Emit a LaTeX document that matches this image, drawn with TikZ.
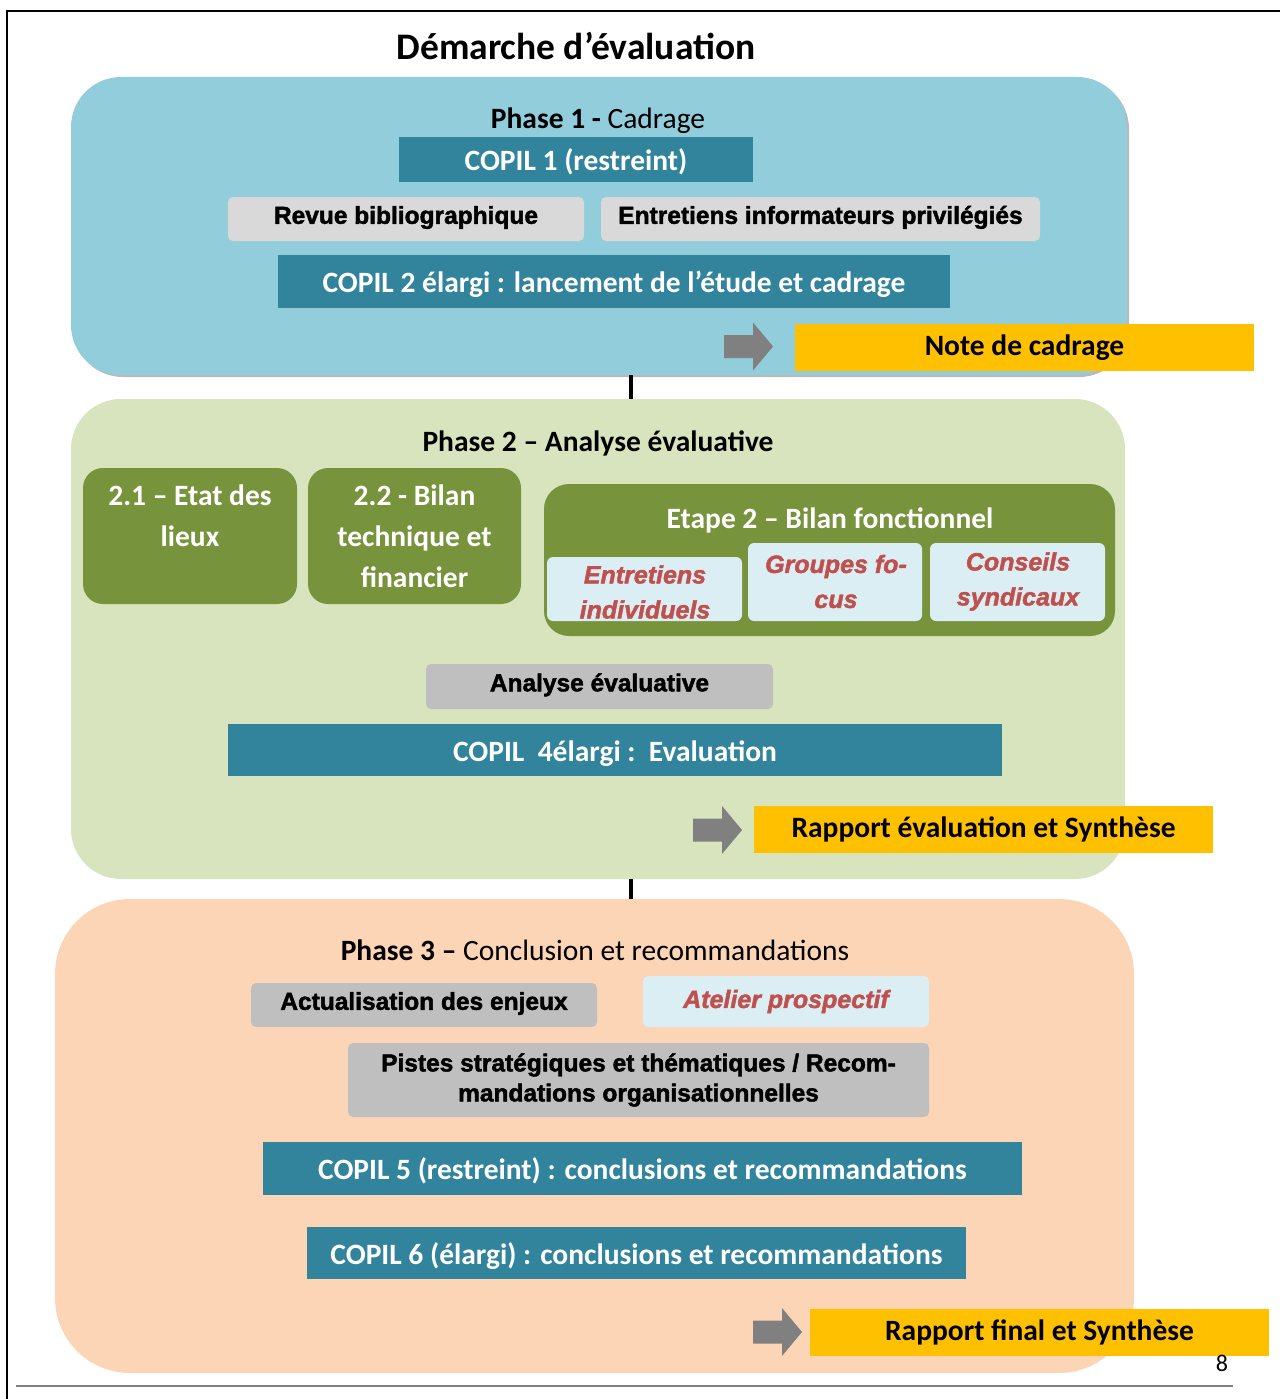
\documentclass[tikz,border=0pt]{standalone}
\usepackage{fontspec}
\setmainfont{Carlito}
\newfontfamily\arl{Liberation Sans}[FakeBold=1.8]
\definecolor{pone}{HTML}{92CDDC}
\definecolor{ptwo}{HTML}{D7E4BD}
\definecolor{pthree}{HTML}{FBD5B5}
\definecolor{copilc}{HTML}{31849B}
\definecolor{lgray}{HTML}{D9D9D9}
\definecolor{mgray}{HTML}{BFBFBF}
\definecolor{yel}{HTML}{FFC000}
\definecolor{arrowc}{HTML}{808080}
\definecolor{grn}{HTML}{77933C}
\definecolor{lblue}{HTML}{DAEEF3}
\definecolor{redt}{HTML}{C0504D}
\begin{document}
\begin{tikzpicture}[x=1pt,y=-1pt,
  phase/.style={inner sep=0},
  copil/.style={fill=copilc,text=white,inner sep=0,text height=28pt,text depth=6pt,font=\fontsize{29.5}{34}\selectfont\bfseries},
  gbox/.style={rounded corners=5,inner sep=0,font=\arl\bfseries\fontsize{24.5}{30}\selectfont,align=center},
  gone/.style={gbox,text height=16pt,text depth=6.4pt},
  yelbox/.style={fill=yel,inner sep=0,font=\fontsize{29.5}{34}\selectfont\bfseries},
  greenbox/.style={fill=grn,inner sep=0},
  wtxt/.style={text=white,font=\fontsize{29.5}{41}\selectfont\bfseries,align=center,inner sep=0},
  bluebox/.style={fill=lblue,rounded corners=6,inner sep=0},
  rtxt/.style={text=redt,font=\arl\bfseries\itshape\fontsize{25}{35}\selectfont,align=center,inner sep=0},
  ptitle/.style={font=\fontsize{29.5}{34}\selectfont,inner sep=0},
  conn/.style={line width=4pt,black},
  blockarrow/.pic={\fill[arrowc] (0,-11.5) -- (29,-11.5) -- (29,-24) -- (49,0) -- (29,24) -- (29,11.5) -- (0,11.5) -- cycle;}
]
\useasboundingbox (0,0) rectangle (1280,1399);
% frame
\draw[line width=2pt] (7,1399) -- (7,11) -- (1280,11);
\draw[arrowc,line width=2.5pt] (16,1386) -- (1233,1386);
% title
\node[font=\fontsize{37.5}{42}\selectfont\bfseries,inner sep=0] (title) at (576,46) {Démarche d’évaluation};

% ---------- Phase 1
\fill[gray!55,rounded corners=50] (73,79) rectangle (1129,377);
\node[phase,fill=pone,rounded corners=50,minimum width=1056,minimum height=298] (p1) at (599,226) {};
\node[ptitle] (t1) at (598,121) {\textbf{Phase 1 -} Cadrage};
\node[copil,minimum width=354,minimum height=45] (c1) at (576,159.5) {COPIL 1 (restreint)};
\node[gone,fill=lgray,minimum width=356,minimum height=44] (rb) at (406,219) {Revue bibliographique};
\node[gone,fill=lgray,minimum width=439,minimum height=44] (ei) at (820.5,219) {Entretiens informateurs privilégiés};
\node[copil,minimum width=672,minimum height=53] (c2) at (614,281.5) {COPIL 2 élargi : lancement de l’étude et cadrage};
\pic (a1) at (724,346.5) {blockarrow};
\node[yelbox,minimum width=459,minimum height=47] (nc) at (1024.5,347.5) {Note de cadrage};

% ---------- Phase 2
\node[phase,fill=ptwo,rounded corners=50,minimum width=1054,minimum height=480] (p2) at (598,639) {};
\node[ptitle,font=\fontsize{29.5}{34}\selectfont\bfseries] (t2) at (598,443) {Phase 2 – Analyse évaluative};
\node[greenbox,rounded corners=20,minimum width=214,minimum height=136] (b21) at (190,536) {};
\node[wtxt] (t21) at (190,516) {2.1 – Etat des\\lieux};
\node[greenbox,rounded corners=20,minimum width=213,minimum height=136] (b22) at (414.5,536) {};
\node[wtxt] (t22) at (414.5,536) {2.2 - Bilan\\technique et\\financier};
\node[greenbox,rounded corners=25,minimum width=571,minimum height=152] (e2) at (829.5,560) {};
\node[wtxt] (te2) at (830,520) {Etape 2 – Bilan fonctionnel};
\node[bluebox,minimum width=195,minimum height=64] (ent) at (644.5,589) {};
\node[rtxt] (tent) at (645,592) {Entretiens\\individuels};
\node[bluebox,minimum width=174,minimum height=78] (gf) at (835,582) {};
\node[rtxt] (tgf) at (836,581.5) {Groupes fo-\\cus};
\node[bluebox,minimum width=175,minimum height=78] (cs) at (1017.5,582) {};
\node[rtxt] (tcs) at (1018,581.5) {Conseils\\syndicaux};
\node[gone,fill=mgray,minimum width=347,minimum height=45] (ae) at (599.5,686.5) {Analyse évaluative};
\node[copil,minimum width=774,minimum height=52] (c4) at (615,750) {COPIL\ \ 4élargi :\ \ Evaluation};
\pic (a2) at (693,830) {blockarrow};
\node[yelbox,minimum width=459,minimum height=47] (re) at (983.5,829.5) {Rapport évaluation et Synthèse};

% ---------- Phase 3
\node[phase,fill=pthree,rounded corners=75,minimum width=1079,minimum height=474] (p3) at (594.5,1136) {};
\node[ptitle] (t3) at (595,950) {\textbf{Phase 3 –} Conclusion et recommandations};
\node[gone,fill=mgray,minimum width=346,minimum height=44] (ac) at (424,1005) {Actualisation des enjeux};
\node[bluebox,rounded corners=5,minimum width=286,minimum height=51,rtxt] (at) at (786,1001.5) {Atelier prospectif};
\node[gbox,fill=mgray,minimum width=581,minimum height=74] (ps) at (638.5,1080) {Pistes stratégiques et thématiques / Recom-\\mandations organisationnelles};
\node[copil,minimum width=759,minimum height=53] (c5) at (642.5,1168.5) {COPIL 5 (restreint) : conclusions et recommandations};
\node[copil,minimum width=659,minimum height=52] (c6) at (636.5,1253) {COPIL 6 (élargi) : conclusions et recommandations};
\pic (a3) at (753,1332) {blockarrow};
\node[yelbox,minimum width=459,minimum height=47] (rf) at (1039.5,1332.5) {Rapport final et Synthèse};
\node[font=\fontsize{24}{28}\selectfont,inner sep=0] (pg) at (1222,1363) {8};

% connectors
\coordinate (cx) at (631,0);
\draw[conn] (p1.south -| cx) -- (p2.north -| cx);
\draw[conn] (p2.south -| cx) -- (p3.north -| cx);
\end{tikzpicture}
\end{document}
